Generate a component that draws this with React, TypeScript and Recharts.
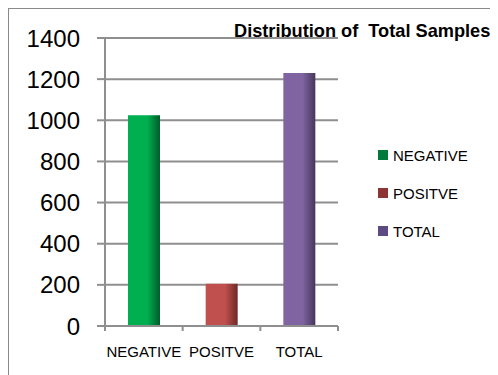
import React from 'react';
import { BarChart, Bar, XAxis, YAxis, CartesianGrid, Legend } from 'recharts';

const categories = ['NEGATIVE', 'POSITVE', 'TOTAL'];
const sampleCounts = [1025, 205, 1230];
const seriesNames = ['NEGATIVE', 'POSITVE', 'TOTAL'];
const yTicks = [0, 200, 400, 600, 800, 1000, 1200, 1400];
const chartTitle = 'Distribution of  Total Samples';

const barLight = ['#00B050', '#C0504D', '#8064A2'];
const barDark = ['#005C29', '#6E2A28', '#46375C'];
const legendColors = ['#007A3A', '#8C3533', '#5C4A82'];

const FONT = '"Liberation Sans", Arial, sans-serif';
const GRID = '#8f8f8f';

const data = categories.map((c, i) => {
  const row: Record<string, any> = { name: c };
  row[seriesNames[i]] = sampleCounts[i];
  return row;
});

const XTick = (props: any) => {
  const { x, y, payload, index, visibleTicksCount, width } = props;
  const half = payload && typeof payload.offset === 'number' && payload.offset > 0
    ? payload.offset
    : width / (visibleTicksCount * 2);
  return (
    <g>
      <line x1={x - half} x2={x - half} y1={y} y2={y + 5} stroke={GRID} strokeWidth={2} />
      {index === visibleTicksCount - 1 && (
        <line x1={x + half} x2={x + half} y1={y} y2={y + 5} stroke={GRID} strokeWidth={2} />
      )}
      <text x={x} y={y + 31} textAnchor="middle" fontSize={15} fill="#000" fontFamily={FONT}>
        {payload.value}
      </text>
    </g>
  );
};

const renderLegend = () => (
  <div style={{ fontFamily: FONT, fontSize: 15, color: '#000' }}>
    {seriesNames.map((n, i) => (
      <div key={n} style={{ display: 'flex', alignItems: 'center', height: 38 }}>
        <span
          style={{ width: 10, height: 10, background: legendColors[i], marginRight: 5, display: 'inline-block' }}
        />
        <span>{n}</span>
      </div>
    ))}
  </div>
);

export default function App() {
  return (
    <div style={{ position: 'relative', width: 490, height: 367 }}>
      <BarChart
        width={490}
        height={367}
        data={data}
        margin={{ top: 30, right: 160, bottom: 19, left: 0 }}
      >
        <defs>
          {seriesNames.map((n, i) => (
            <linearGradient key={n} id={`grad${i}`} x1="0" y1="0" x2="1" y2="0">
              <stop offset="0%" stopColor={barLight[i]} />
              <stop offset="60%" stopColor={barLight[i]} />
              <stop offset="100%" stopColor={barDark[i]} />
            </linearGradient>
          ))}
        </defs>
        <CartesianGrid vertical={false} stroke={GRID} strokeWidth={2} />
        <XAxis
          dataKey="name"
          height={30}
          tickSize={0}
          tickMargin={0}
          tickLine={false}
          axisLine={{ stroke: GRID, strokeWidth: 2 }}
          tick={<XTick />}
          interval={0}
        />
        <YAxis
          width={97}
          domain={[0, 1400]}
          ticks={yTicks}
          interval={0}
          tickSize={8}
          tickMargin={17}
          tickLine={{ stroke: GRID, strokeWidth: 2 }}
          axisLine={{ stroke: GRID, strokeWidth: 2 }}
          tick={{ fontSize: 24, fill: '#000', fontFamily: FONT }}
        />
        <Legend
          layout="vertical"
          align="center"
          verticalAlign="middle"
          wrapperStyle={{ left: 370, top: 128, width: 120 }}
          content={renderLegend}
        />
        {seriesNames.map((n, i) => (
          <Bar key={n} dataKey={n} stackId="s" barSize={32} fill={`url(#grad${i})`} isAnimationActive={false} />
        ))}
      </BarChart>
      <div
        style={{
          position: 'absolute',
          left: 0,
          top: 0,
          width: 490,
          height: 367,
          borderTop: '1px solid #8a8a8a',
          borderLeft: '1px solid #8a8a8a',
          boxSizing: 'border-box',
          pointerEvents: 'none',
        }}
      />
      <div
        style={{
          position: 'absolute',
          left: 226,
          top: 14,
          fontFamily: FONT,
          fontWeight: 'bold',
          fontSize: 18.2,
          lineHeight: '18px',
          whiteSpace: 'pre',
          color: '#000',
        }}
      >
        {chartTitle}
      </div>
    </div>
  );
}
